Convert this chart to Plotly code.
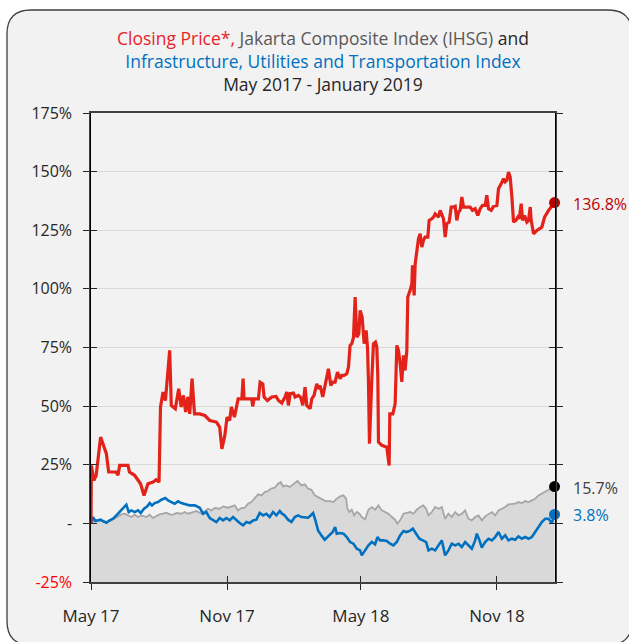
import pandas as pd
import plotly.graph_objects as go

# ---------------- data ----------------
START = "2017-05-01"
END = "2019-01-18 12:00"

# days since START, cumulative change in %
price_days = [0, 0.5, 4, 7, 13, 17.6, 20.8, 23.9, 34, 36.5, 38.8, 50, 52, 59, 63.6, 67, 71.7, 77, 84, 88,
              92, 94, 97.4, 100.6, 103, 106.4, 108.6, 114, 118.6, 122, 125, 128, 131, 133.5, 136.7, 140,
              147, 154, 160.6, 169.6, 174, 177, 181, 184, 187.6, 189.8, 194, 199, 204, 205.7, 207, 217.4,
              218.7, 220.5, 226.4, 228.7, 232.3, 234.1, 238.6, 244.4, 250.3, 253.5, 258, 262.5, 264.7, 267,
              269.3, 273.8, 276, 280.5, 283.7, 286.4, 289.5, 291.8, 296.3, 298.6, 301.7, 305.3, 307.6,
              309.8, 313.4, 318, 321.1, 324.3, 327, 330.1, 333.3, 336.9, 339.2, 342.3, 345.9, 348.2, 350.4,
              352.7, 355, 357.2, 359.5, 362.2, 364, 366.7, 369.4, 372.1, 373.9, 375.2, 376.6, 379.7, 382,
              384.7, 386.5, 387.9, 388.8, 393.3, 400, 403.2, 404.1, 408.2, 411.3, 413.6, 415.8, 418.1,
              420.3, 422.6, 424.8, 427.1, 428.4, 431.6, 433.9, 434.8, 437.0, 438.4, 440.6, 442.9, 445.1,
              447.4, 449.6, 451.9, 455.5, 457.3, 460.9, 463.2, 465.4, 467.7, 469.9, 472.2, 474.4, 476.7,
              479.0, 481.2, 484.4, 487.1, 490.2, 492.5, 494.7, 497.0, 499.2, 501.5, 503.8, 508.3, 512.8,
              515.9, 519.5, 523.1, 526.3, 529.5, 533.1, 535.3, 537.6, 541.2, 544.4, 548.9, 551.1, 554.7,
              557.9, 560.1, 562.4, 564.6, 566.9, 569.2, 571.4, 574.6, 577.3, 579.1, 581.8, 583.6, 586.3,
              589.5, 591.7, 594.0, 595.3, 598.5, 603.0, 609.7, 613.4, 618.8, 623.3, 626.9]
price_vals = [0, 24.7, 18.3, 20.5, 36.8, 32.5, 29.7, 21.9, 21.9, 20.5, 24.7, 24.7, 21.9, 20.5, 18.3, 16.9,
              11.9, 16.9, 17.6, 18.6, 17.6, 49.6, 56.0, 52.4, 61.0, 73.8, 50.3, 48.9, 57.4, 49.6, 54.6,
              47.5, 53.9, 46.7, 61.7, 46.7, 46.7, 46.0, 43.9, 43.2, 41.1, 31.8, 37.5, 45.3, 43.9, 49.6,
              45.3, 53.1, 53.1, 61.7, 53.1, 53.1, 49.9, 53.1, 53.1, 60.2, 59.5, 53.9, 52.4, 53.9, 54.1,
              52.4, 51.3, 53.9, 56.0, 50.3, 55.3, 55.6, 53.9, 54.6, 53.6, 50.3, 58.1, 50.3, 48.9, 53.1,
              54.6, 59.5, 57.4, 58.8, 53.9, 61.0, 65.9, 58.8, 60.2, 60.2, 64.5, 61.7, 63.1, 63.1, 63.8,
              66.6, 75.9, 76.6, 79.4, 96.5, 79.4, 80.9, 90.8, 88.0, 76.6, 82.3, 75.2, 61.0, 34.0, 61.0,
              76.6, 77.3, 75.2, 62.4, 34.7, 33.3, 32.5, 24.7, 46.7, 46.7, 51.0, 75.9, 73.8, 68.1, 60.3,
              71.6, 65.2, 73.8, 96.5, 99.4, 102.2, 110.0, 97.2, 110.7, 115.0, 121.4, 123.5, 117.8, 120.7,
              122.1, 122.1, 129.2, 129.9, 130.6, 132.0, 131.3, 130.6, 133.5, 132.0, 129.9, 122.1, 127.8,
              128.5, 134.9, 134.9, 135.2, 129.2, 132.8, 133.5, 139.2, 134.9, 134.9, 134.9, 133.5, 134.2,
              131.3, 134.2, 135.6, 135.6, 139.9, 134.2, 133.5, 135.2, 135.6, 142.7, 144.8, 147.0, 145.6,
              146.3, 149.8, 147.7, 139.2, 128.5, 129.2, 130.6, 129.9, 136.3, 129.2, 131.3, 128.5, 129.2,
              134.9, 129.2, 123.5, 124.9, 126.3, 130.6, 133.5, 135.6, 136.8]

ihsg_days = [0, 5, 9.5, 16.2, 20.7, 27.5, 34.3, 41, 45.5, 50.1, 54.6, 59.1, 63.6, 68.1, 74.9, 79.4, 83.9,
             88.4, 92.9, 97.4, 101.9, 106.4, 110.9, 115.5, 122.2, 126.7, 131.2, 135.7, 142.5, 149.3,
             153.8, 158.3, 162.8, 167.3, 174.1, 178.6, 185.4, 189.9, 194.4, 198.9, 203.4, 207.9, 212.4,
             216.9, 221.4, 225.9, 230.5, 235, 239.5, 243.1, 248.5, 253, 256.6, 259.8, 264.3, 268.8,
             273.3, 279.2, 284.6, 289.1, 293.6, 298.1, 302.6, 307.1, 311.6, 317.1, 323.3, 327.8, 332.4,
             336.9, 341.4, 345, 346.8, 349.5, 352.6, 355.8, 359.4, 363, 366.2, 370.7, 375.2, 379.7,
             384.2, 388.7, 393.2, 397.7, 402.3, 406.8, 411.3, 414.4, 418, 422.6, 427.1, 431.6, 436.1,
             440.6, 445.1, 449.6, 453.2, 456.4, 460.9, 465.4, 469.9, 474.4, 478.9, 483.4, 487.9, 492.5,
             497, 501.5, 506, 510.5, 515, 519.5, 524, 528.5, 533, 537.6, 542.1, 546.6, 551.1, 555.6,
             560.1, 564.6, 569.1, 573.6, 578.1, 582.7, 587.2, 591.7, 596.2, 600.7, 605.2, 609.7, 614.2,
             618.7, 623.2, 626.9]
ihsg_vals = [0, 1.57, 1.28, 1.0, 0.57, 1.28, 2.42, 3.84, 4.12, 3.41, 2.7, 3.7, 2.7, 3.41, 2.7, 3.7, 2.28,
             3.13, 3.84, 4.12, 4.55, 3.84, 3.7, 4.41, 4.12, 4.83, 4.12, 4.55, 5.26, 4.12, 5.12, 6.26,
             5.54, 6.54, 6.26, 7.25, 6.68, 7.25, 7.68, 5.54, 6.54, 6.68, 8.39, 9.1, 10.52, 12.37, 11.94,
             13.36, 13.79, 14.78, 15.21, 16.91, 17.63, 15.78, 16.2, 15.49, 16.63, 18.05, 16.2, 16.63,
             14.78, 14.36, 11.94, 11.23, 10.52, 9.52, 9.52, 9.1, 10.52, 11.51, 11.94, 10.52, 6.26, 4.83,
             5.83, 3.41, 4.83, 4.12, 2.7, 1.71, 5.83, 6.97, 5.83, 7.68, 5.54, 4.83, 4.12, 2.7, 1.57,
             -0.14, 1.28, 4.12, 4.41, 4.83, 4.12, 5.83, 6.97, 7.68, 6.26, 3.41, 4.83, 6.97, 6.26, 6.97,
             1.99, 4.12, 2.7, 4.83, 3.41, 4.12, 5.54, 1.99, 1.28, 2.7, 3.41, 1.28, 2.99, 4.12, 4.83,
             3.41, 5.54, 6.26, 6.97, 8.1, 8.39, 8.39, 9.1, 8.67, 9.52, 9.1, 9.81, 10.52, 11.94, 12.65,
             13.36, 14.36, 14.78, 15.7]

infra_days = [0, 2.7, 5.9, 9.5, 13.1, 16.2, 20.7, 25.3, 29.8, 34.3, 38.8, 43.3, 47.8, 51, 54.6, 59.1,
              63.6, 67.2, 71.7, 76.2, 79.4, 82.5, 86.1, 90.6, 95.2, 100.6, 104.2, 108.7, 113.2, 117.7,
              122.2, 129, 133.5, 140.3, 147, 151.5, 156, 160.6, 165.1, 169.6, 174.1, 178.6, 183.1,
              187.6, 192.1, 196.6, 201.1, 205.7, 210.2, 214.7, 219.2, 223.7, 228.2, 232.7, 237.2,
              241.7, 246.2, 250.7, 255.3, 258.4, 262, 266.5, 271.1, 275.6, 280.1, 284.6, 289.1, 293.6,
              297.2, 300.4, 303.5, 307.1, 311.6, 316.1, 320.7, 323.3, 326.9, 330.1, 332.4, 336.9,
              341.4, 345.9, 350.4, 354.9, 359.4, 363.9, 366.2, 370.7, 375.2, 379.7, 384.2, 387.4, 391,
              395.5, 400, 404.5, 409, 413.5, 418, 422.6, 426.2, 430.7, 435.2, 439.7, 444.2, 448.7,
              453.2, 456.4, 460.9, 465.4, 469.9, 474.4, 478.9, 483.4, 487.9, 492.5, 497, 501.5, 506,
              510.5, 515, 519.5, 521.8, 525.4, 528.5, 533, 537.6, 542.1, 546.6, 551.1, 555.6, 560.1,
              564.6, 569.1, 573.6, 578.1, 582.7, 587.2, 591.7, 596.2, 600.7, 605.2, 609.7, 614.2,
              618.7, 623.2, 626.9]
infra_vals = [0, 2.7, 1.0, 1.28, 1.57, 1.0, 0.29, 1.28, 1.99, 3.41, 4.83, 6.68, 7.96, 4.83, 5.54, 4.83,
              5.54, 4.41, 6.26, 7.25, 8.67, 7.68, 8.67, 9.1, 10.09, 10.8, 9.81, 9.1, 8.39, 9.38, 8.67,
              8.1, 7.68, 7.68, 6.68, 4.12, 4.83, 2.28, 1.28, 0.57, 2.28, 1.28, 2.28, 1.28, 2.7, 1.28,
              0.14, -0.85, 0.57, 0.14, 1.28, 1.57, 4.41, 3.41, 4.12, 2.7, 4.83, 3.41, 5.26, 4.12, 3.41,
              1.57, 0.57, 2.7, 3.41, 2.7, 2.7, 2.42, 3.41, 4.41, 1.28, -2.98, -5.12, -6.96, -5.54,
              -4.69, -3.69, -1.56, -4.4, -4.12, -4.4, -5.83, -7.96, -8.67, -10.8, -11.51, -13.64,
              -11.51, -9.38, -7.96, -8.95, -5.83, -7.25, -7.25, -7.53, -8.67, -9.38, -7.96, -5.12,
              -3.27, -3.69, -3.27, -2.27, -4.4, -6.54, -7.25, -7.96, -11.51, -10.8, -11.51, -9.38,
              -7.25, -13.64, -11.51, -8.67, -9.38, -8.67, -10.09, -7.96, -9.38, -10.8, -7.25, -4.4,
              -7.25, -10.37, -7.96, -6.54, -7.25, -5.83, -3.69, -6.54, -5.12, -7.25, -6.54, -6.96,
              -5.54, -6.54, -5.83, -6.54, -5.83, -3.69, -1.56, 0.57, 1.99, 1.99, 0.14, 3.8]

y_ticks = [-25, 0, 25, 50, 75, 100, 125, 150, 175]
y_tick_text = ["<span style='color:#ff0000'>-25%</span>", "-", "25%", "50%", "75%",
               "100%", "125%", "150%", "175%"]
x_ticks = ["2017-05-01", "2017-11-01", "2018-05-01", "2018-11-01"]
x_tick_text = ["May 17", "Nov 17", "May 18", "Nov 18"]

title_text = ("<span style='color:#e8232a'>Closing Price*,</span>"
              "<span style='color:#595959'> Jakarta Composite Index (IHSG)</span> and<br>"
              "<span style='color:#0070c0'>Infrastructure, Utilities and Transportation Index</span><br>"
              "May 2017 - January 2019")

# ---------------- styling ----------------
W, H = 629, 642
L, R, T, B = 91, 555, 113, 582        # plot area in pixels
FONT = "Open Sans"
RED, DARKRED, BLUE, GRAY, FILL = "#e32219", "#c00000", "#0070c0", "#a6a6a6", "#d9d9d9"
TXT = "#262626"


def to_dates(days):
    return pd.Timestamp(START) + pd.to_timedelta(days, unit="D")


def fx(px):
    return (px - L) / (R - L)


def fy(py):
    return (B - py) / (B - T)


price_x = to_dates(price_days)
ihsg_x = to_dates(ihsg_days)
infra_x = to_dates(infra_days)

fig = go.Figure()
# baseline at the bottom of the axis so that IHSG area fills down to it
fig.add_trace(go.Scatter(x=[ihsg_x[0], ihsg_x[-1]], y=[y_ticks[0], y_ticks[0]], mode="lines",
                         line=dict(width=0, color=FILL), hoverinfo="skip"))
fig.add_trace(go.Scatter(x=ihsg_x, y=ihsg_vals, mode="lines", fill="tonexty", fillcolor=FILL,
                         line=dict(color=GRAY, width=1.8), hoverinfo="skip"))
fig.add_trace(go.Scatter(x=infra_x, y=infra_vals, mode="lines",
                         line=dict(color=BLUE, width=2.6), hoverinfo="skip"))
fig.add_trace(go.Scatter(x=price_x, y=price_vals, mode="lines",
                         line=dict(color=RED, width=3.2), hoverinfo="skip"))
# end markers (on the overlay axes, same scales)
fig.add_trace(go.Scatter(x=[price_x[-1], ihsg_x[-1], infra_x[-1]],
                         y=[price_vals[-1], ihsg_vals[-1], infra_vals[-1]],
                         mode="markers", marker=dict(size=11, color=[DARKRED, "#000000", BLUE]),
                         xaxis="x2", yaxis="y2", hoverinfo="skip", cliponaxis=False))

# card background
r = 24
cx0, cy0, cx1, cy1 = 7, 10, 632, 645
path = (f"M {fx(cx0 + r)} {fy(cy0)} L {fx(cx1 - r)} {fy(cy0)} Q {fx(cx1)} {fy(cy0)} {fx(cx1)} {fy(cy0 + r)} "
        f"L {fx(cx1)} {fy(cy1 - r)} Q {fx(cx1)} {fy(cy1)} {fx(cx1 - r)} {fy(cy1)} "
        f"L {fx(cx0 + r)} {fy(cy1)} Q {fx(cx0)} {fy(cy1)} {fx(cx0)} {fy(cy1 - r)} "
        f"L {fx(cx0)} {fy(cy0 + r)} Q {fx(cx0)} {fy(cy0)} {fx(cx0 + r)} {fy(cy0)} Z")

annotations = [dict(x=0.5, y=fy(61.5), xref="paper", yref="paper", xanchor="center", yanchor="middle",
                    showarrow=False, text=title_text, font=dict(family=FONT, size=17.5, color=TXT))]
for val, col in [(price_vals[-1], DARKRED), (ihsg_vals[-1], "#404040"), (infra_vals[-1], BLUE)]:
    annotations.append(dict(x=fx(571), y=val, xref="paper", yref="y", xanchor="left", yanchor="middle",
                            showarrow=False, text=f"{val:.1f}%", yshift=-1,
                            font=dict(family=FONT, size=16, color=col)))

fig.update_layout(
    width=W, height=H, margin=dict(l=L, r=W - R, t=T, b=H - B, pad=0),
    paper_bgcolor="white", plot_bgcolor="rgba(0,0,0,0)", showlegend=False,
    font=dict(family=FONT, size=16, color=TXT),
    shapes=[dict(type="path", path=path, xref="paper", yref="paper", layer="below",
                 fillcolor="#f2f2f2", line=dict(color="#3f3f3f", width=1.3))],
    annotations=annotations,
    xaxis=dict(type="date", range=[START, END], tickmode="array", tickvals=x_ticks, ticktext=x_tick_text,
               ticks="outside", ticklen=6, tickcolor=TXT, showline=True, linecolor="#404040",
               linewidth=1.5, mirror=True, showgrid=False, zeroline=False, ticklabelstandoff=12,
               tickfont=dict(family=FONT, size=17, color=TXT)),
    yaxis=dict(range=[y_ticks[0], y_ticks[-1]], tickmode="array", tickvals=y_ticks, ticktext=y_tick_text,
               ticks="outside", ticklen=6, tickcolor=TXT, showline=True, linecolor="#404040",
               linewidth=1.5, mirror="ticks", showgrid=True, gridcolor="#d9d9d9", gridwidth=1,
               zeroline=False, ticklabelstandoff=8, tickfont=dict(family=FONT, size=16, color=TXT)),
    xaxis2=dict(type="date", overlaying="x", anchor="y2", range=[START, END], tickmode="array",
                tickvals=x_ticks, ticks="inside", ticklen=6, tickcolor=TXT, showticklabels=False,
                showgrid=False, zeroline=False, showline=False),
    yaxis2=dict(overlaying="y", anchor="x2", range=[y_ticks[0], y_ticks[-1]], tickmode="array",
                tickvals=y_ticks, ticks="inside", ticklen=6, tickcolor=TXT, showticklabels=False,
                showgrid=False, zeroline=False, showline=True, linecolor="#000000", linewidth=1,
                mirror="ticks"),
)

fig.write_html("out.html")
